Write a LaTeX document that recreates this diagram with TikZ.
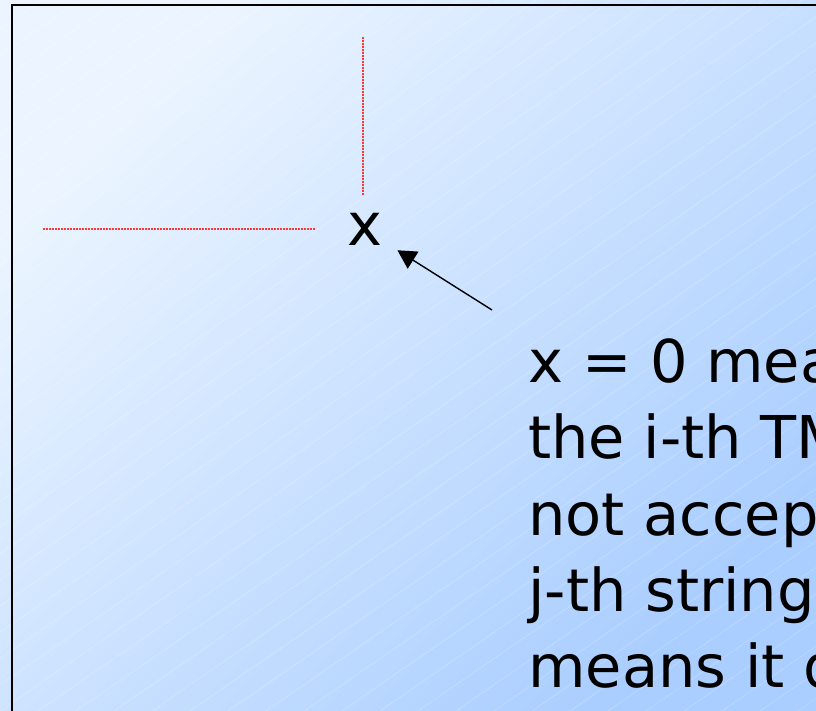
\documentclass[tikz,border=0pt]{standalone}
\usepackage{fontspec}
\setmainfont{DejaVu Sans}
\usetikzlibrary{arrows.meta}
\definecolor{slideTop}{RGB}{236,245,255}
\definecolor{slideBot}{RGB}{170,206,255}
\definecolor{guideRed}{RGB}{255,55,55}

\begin{document}
\begin{tikzpicture}[x=0.5pt,y=-0.5pt,
    big/.style={font=\fontsize{29.5}{38.2}\selectfont,inner sep=0pt},
    guide/.style={guideRed,line width=0.85pt,dash pattern=on 1pt off 0.5pt},
    pointer/.style={-{Triangle[length=9.3pt,width=10pt]},line width=0.7pt}]
  \useasboundingbox (0,0) rectangle (816,711);
  \clip (0,0) rectangle (816,711);

  % slide background
  \shade[top color=slideTop,bottom color=slideBot,shading angle=45] (0,0) rectangle (816,711);
  \foreach \k in {-30,...,22}
    \draw[white,opacity=0.25,line width=0.3pt] (\k*38,711) -- ++(1100,-759);
  \draw[line width=1pt] (12,5.5) rectangle (900,800);

  % entry and its row/column guides
  \node[big,minimum width=32.5pt,minimum height=40pt] (xlbl) at (364.5,229.5) {x};
  \coordinate (vtop) at (363,37);
  \coordinate (vbot) at (363,195);
  \coordinate (hl) at (43,229);
  \coordinate (hr) at (316,229);
  \draw[guide] (vtop) -- (vbot);
  \draw[guide] (hl) -- (hr);

  % explanation (base = last line)
  \node[big,anchor=base west,align=left] (note) at (528,688)
    {x = 0 mea\\the i-th TM\\not accept\\j-th string;\\means it d};
  \coordinate (tail) at (492,310);
  \draw[pointer] (tail) -- (xlbl);
\end{tikzpicture}
\end{document}
